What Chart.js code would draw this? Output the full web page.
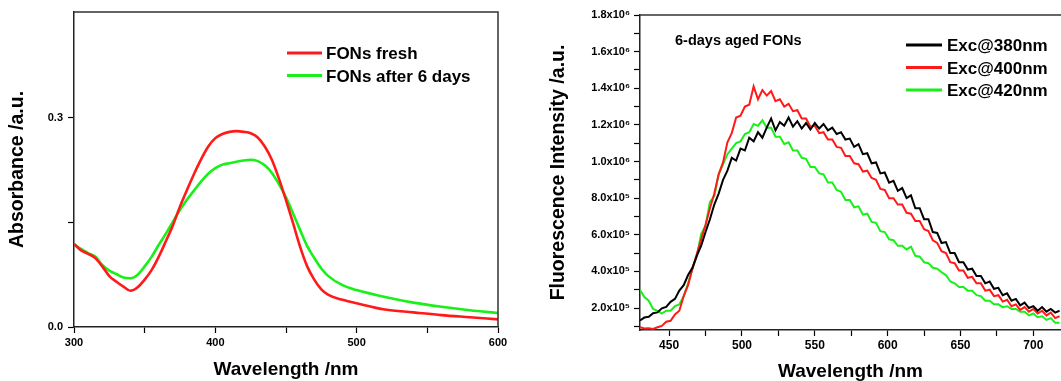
<!DOCTYPE html>
<html>
<head>
<meta charset="utf-8">
<script src="https://cdn.jsdelivr.net/npm/chart.js@4.4.1/dist/chart.umd.min.js"></script>
<style>
  html, body { margin: 0; padding: 0; background: #fff; overflow: hidden; }
  #wrap { position: relative; width: 1061px; height: 381px; }
  #abs { position: absolute; left: 0; top: 0; }
  #fl { position: absolute; left: 530px; top: 0; }
</style>
</head>
<body>
<div id="wrap">
  <canvas id="abs" width="530" height="381"></canvas>
  <canvas id="fl" width="531" height="381"></canvas>
</div>
<script>
// ---- absorbance panel (left) ----
const absWavelength = [300, 305, 310, 315, 320, 325, 330, 335, 340, 345, 350, 355, 360, 365, 370, 375, 380, 385, 390, 395,
  400, 405, 410, 415, 420, 425, 430, 435, 440, 445, 450, 455, 460, 465, 470, 475, 480, 490, 500, 520, 540, 560, 580, 600];
const absFresh = [0.119, 0.110, 0.105, 0.099, 0.087, 0.073, 0.065, 0.058, 0.052, 0.057, 0.068, 0.082, 0.101, 0.123, 0.146, 0.173, 0.197, 0.220, 0.241, 0.259,
  0.271, 0.277, 0.280, 0.281, 0.280, 0.278, 0.272, 0.259, 0.240, 0.213, 0.182, 0.149, 0.115, 0.087, 0.068, 0.054, 0.046, 0.039, 0.034, 0.025, 0.021, 0.017, 0.014, 0.011];
const absAged = [0.119, 0.112, 0.106, 0.101, 0.089, 0.081, 0.076, 0.071, 0.070, 0.075, 0.087, 0.101, 0.118, 0.134, 0.151, 0.168, 0.183, 0.196, 0.209, 0.220,
  0.228, 0.233, 0.235, 0.237, 0.239, 0.240, 0.238, 0.232, 0.221, 0.205, 0.186, 0.163, 0.139, 0.116, 0.099, 0.084, 0.073, 0.060, 0.053, 0.043, 0.035, 0.029, 0.024, 0.020];
const absLabels = ['FONs fresh', 'FONs after 6 days'];
const absXTicks = [300, 350, 400, 450, 500, 550, 600];
const absYTicks = [0, 0.15, 0.3];

// ---- fluorescence panel (right), intensity in units of 1e5 ----
const flWavelength = [430, 433, 436, 439, 442, 445, 448, 451, 454, 457, 460, 463, 466, 469, 472, 475, 478, 481, 484, 487,
  490, 493, 496, 499, 502, 505, 508, 511, 514, 517, 520, 523, 526, 529, 532, 535, 538, 541, 544, 547,
  550, 553, 556, 559, 562, 565, 568, 571, 574, 577, 580, 583, 586, 589, 592, 595, 598, 601, 604, 607,
  610, 613, 616, 619, 622, 625, 628, 631, 634, 637, 640, 643, 646, 649, 652, 655, 658, 661, 664, 667,
  670, 673, 676, 679, 682, 685, 688, 691, 694, 697, 700, 703, 706, 709, 712, 715, 718];
const exc380 = [1.32, 1.48, 1.52, 1.72, 1.76, 1.98, 2.06, 2.34, 2.5, 2.95,
  3.25, 3.8, 4.2, 4.85, 5.4, 6.15, 6.85, 7.65, 8.25, 9.0,
  9.5, 10.2, 10.05, 10.7, 10.6, 11.3, 11.1, 11.6, 11.3, 11.85,
  12.35, 11.7, 12.15, 11.95, 12.4, 11.9, 12.2, 11.8, 12.1, 11.75,
  12.1, 11.8, 12.05, 11.7, 11.85, 11.5, 11.6, 11.2, 11.25, 10.8,
  10.95, 10.4, 10.45, 9.9, 9.95, 9.35, 9.4, 8.85, 8.95, 8.4,
  8.55, 8.0, 8.15, 7.45, 7.45, 6.85, 6.85, 6.15, 6.1, 5.55,
  5.6, 5.0, 5.0, 4.5, 4.5, 4.1, 4.15, 3.75, 3.75, 3.35,
  3.45, 3.05, 3.1, 2.7, 2.8, 2.4, 2.5, 2.15, 2.3, 2.0,
  2.1, 1.85, 2.05, 1.8, 1.95, 1.75, 1.85];
const exc400 = [0.95, 0.88, 0.9, 0.86, 0.95, 1.02, 1.25, 1.3, 1.65, 1.85,
  2.65, 3.25, 4.15, 4.95, 5.75, 6.55, 7.45, 8.25, 9.3, 9.95,
  11.05, 11.55, 12.4, 12.5, 13.0, 13.1, 14.1, 13.4, 13.9, 13.6,
  13.85, 13.3, 13.4, 13.0, 13.15, 12.75, 12.8, 12.35, 12.35, 11.9,
  11.95, 11.55, 11.6, 11.2, 11.2, 10.8, 10.75, 10.3, 10.3, 9.9,
  9.85, 9.45, 9.5, 9.1, 9.0, 8.5, 8.45, 8.0, 8.0, 7.65,
  7.65, 7.2, 7.15, 6.75, 6.75, 6.3, 6.2, 5.7, 5.55, 5.1,
  5.0, 4.5, 4.45, 4.05, 4.05, 3.65, 3.7, 3.35, 3.35, 2.95,
  3.0, 2.65, 2.7, 2.35, 2.45, 2.1, 2.2, 1.9, 2.05, 1.8,
  1.95, 1.7, 1.85, 1.6, 1.75, 1.45, 1.55];
const exc420 = [3.0, 2.6, 2.4, 1.95, 1.85, 1.7, 1.85, 1.85, 2.1, 2.2,
  2.65, 3.35, 4.15, 4.85, 6.05, 6.5, 7.8, 8.1, 9.3, 9.85,
  10.4, 10.7, 11.0, 11.1, 11.5, 11.6, 12.05, 11.95, 12.25, 11.85,
  11.85, 11.35, 11.35, 10.95, 11.05, 10.6, 10.6, 10.2, 10.15, 9.7,
  9.7, 9.35, 9.3, 8.85, 8.85, 8.45, 8.35, 7.9, 7.9, 7.5,
  7.55, 7.1, 7.15, 6.7, 6.65, 6.2, 6.15, 5.75, 5.7, 5.4,
  5.4, 5.2, 5.35, 4.85, 4.8, 4.5, 4.45, 4.2, 4.15, 3.95,
  3.8, 3.45, 3.35, 3.15, 3.15, 2.95, 2.95, 2.7, 2.65, 2.4,
  2.4, 2.2, 2.2, 2.05, 2.1, 1.95, 1.95, 1.8, 1.8, 1.6,
  1.7, 1.5, 1.55, 1.35, 1.45, 1.2, 1.2];
const flLabels = ['Exc@380nm', 'Exc@400nm', 'Exc@420nm'];
const flNote = '6-days aged FONs';
const flXTicks = [450, 475, 500, 525, 550, 575, 600, 625, 650, 675, 700];
const flYTicks = [1, 2, 3, 4, 5, 6, 7, 8, 9, 10, 11, 12, 13, 14, 15, 16, 17, 18];

const FONT = '"Liberation Sans", Arial, sans-serif';
Chart.defaults.font.family = FONT;
Chart.defaults.font.weight = 'bold';
Chart.defaults.color = '#000';

function pts(xs, ys) {
  return xs.map((x, i) => ({ x: x, y: ys[i] }));
}

// box lines on top / right of the plot area
const frame = {
  id: 'frame',
  afterDraw(chart, args, opts) {
    const { ctx, chartArea: a } = chart;
    ctx.save();
    ctx.strokeStyle = '#333';
    ctx.lineWidth = 1.5;
    ctx.beginPath();
    ctx.moveTo(a.left, a.top);
    ctx.lineTo(a.right, a.top);
    if (opts.right) ctx.lineTo(a.right, a.bottom);
    ctx.stroke();
    ctx.restore();
  }
};

// legend drawn inside the plot, like the original figure
const boxLegend = {
  id: 'boxLegend',
  afterDraw(chart, args, opts) {
    const ctx = chart.ctx;
    ctx.save();
    ctx.font = 'bold ' + opts.size + 'px ' + FONT;
    ctx.textBaseline = 'alphabetic';
    chart.data.datasets.forEach((ds, i) => {
      const y = opts.y + i * opts.dy;
      ctx.strokeStyle = ds.borderColor;
      ctx.lineWidth = opts.lw;
      ctx.beginPath();
      ctx.moveTo(opts.x, y);
      ctx.lineTo(opts.x + opts.len, y);
      ctx.stroke();
      ctx.fillStyle = '#000';
      ctx.fillText(ds.label, opts.x + opts.len + opts.gap, y + opts.size * 0.36);
    });
    if (opts.note) {
      ctx.font = 'bold ' + opts.note.size + 'px ' + FONT;
      ctx.fillText(opts.note.text, opts.note.x, opts.note.y);
    }
    ctx.restore();
  }
};

function axis(extra) {
  return Object.assign({
    type: 'linear',
    grid: { drawOnChartArea: false, drawTicks: true, tickLength: 6, tickColor: '#000', tickWidth: 1.2 },
    border: { display: true, color: '#222', width: 1.5 }
  }, extra);
}

new Chart(document.getElementById('abs'), {
  type: 'line',
  data: {
    datasets: [
      { label: absLabels[0], data: pts(absWavelength, absFresh), borderColor: '#ff1a1a', borderWidth: 2.6, pointRadius: 0, tension: 0.4, cubicInterpolationMode: 'monotone' },
      { label: absLabels[1], data: pts(absWavelength, absAged), borderColor: '#19f019', borderWidth: 2.6, pointRadius: 0, tension: 0.4, cubicInterpolationMode: 'monotone' }
    ]
  },
  options: {
    responsive: false,
    animation: false,
    devicePixelRatio: 1,
    layout: { padding: { left: 0, top: 12, right: 32, bottom: 0 } },
    plugins: {
      legend: { display: false },
      tooltip: { enabled: false },
      frame: { right: true },
      boxLegend: { x: 287, y: 53, dy: 22.5, len: 35, gap: 4, lw: 3, size: 17 }
    },
    scales: {
      x: axis({
        min: 300, max: 600,
        afterBuildTicks: s => { s.ticks = absXTicks.map(v => ({ value: v })); },
        afterFit: s => { s.height = 54; },
        ticks: { autoSkip: false, maxRotation: 0, padding: 3, font: { size: 11, weight: 'bold' },
          callback: v => (v % 100 === 0 ? String(v) : '') },
        title: { display: true, text: 'Wavelength /nm', font: { size: 19, weight: 'bold' }, padding: { top: 0, bottom: 0 } }
      }),
      y: axis({
        min: 0, max: 0.452,
        afterBuildTicks: s => { s.ticks = absYTicks.map(v => ({ value: v })); },
        afterFit: s => { s.width = 74; },
        ticks: { autoSkip: false, padding: 5, font: { size: 11, weight: 'bold' },
          callback: v => (Math.abs(v / 0.3 - Math.round(v / 0.3)) < 1e-6 ? v.toFixed(1) : '') },
        title: { display: true, text: 'Absorbance /a.u.', font: { size: 19.5, weight: 'bold' }, padding: { top: 6, bottom: 0 } }
      })
    }
  },
  plugins: [frame, boxLegend]
});

new Chart(document.getElementById('fl'), {
  type: 'line',
  data: {
    datasets: [
      { label: flLabels[0], data: pts(flWavelength, exc380), borderColor: '#000000', borderWidth: 2, pointRadius: 0, tension: 0 },
      { label: flLabels[1], data: pts(flWavelength, exc400), borderColor: '#ff1a1a', borderWidth: 2, pointRadius: 0, tension: 0 },
      { label: flLabels[2], data: pts(flWavelength, exc420), borderColor: '#19f019', borderWidth: 2, pointRadius: 0, tension: 0 }
    ]
  },
  options: {
    responsive: false,
    animation: false,
    devicePixelRatio: 1,
    layout: { padding: { left: 0, top: 15, right: 0, bottom: 0 } },
    plugins: {
      legend: { display: false },
      tooltip: { enabled: false },
      frame: { right: false },
      boxLegend: { x: 376, y: 45, dy: 22.5, len: 36, gap: 5, lw: 3, size: 17,
        note: { text: flNote, x: 145, y: 45, size: 14.5 } }
    },
    scales: {
      x: axis({
        min: 430, max: 719,
        afterBuildTicks: s => { s.ticks = flXTicks.map(v => ({ value: v })); },
        afterFit: s => { s.height = 51; },
        ticks: { autoSkip: false, maxRotation: 0, padding: 2, font: { size: 12, weight: 'bold' },
          callback: v => (v % 50 === 0 ? String(v) : '') },
        title: { display: true, text: 'Wavelength /nm', font: { size: 19, weight: 'bold' }, padding: { top: 0, bottom: -2 } }
      }),
      y: axis({
        min: 0.8, max: 18,
        afterBuildTicks: s => { s.ticks = flYTicks.map(v => ({ value: v })); },
        afterFit: s => { s.width = 110; },
        ticks: { autoSkip: false, padding: 4, font: { size: 11, weight: 'bold' },
          callback: v => {
            if (v % 2 !== 0) return '';
            return v >= 10 ? (v / 10).toFixed(1) + 'x10\u2076' : v.toFixed(1) + 'x10\u2075';
          } },
        title: { display: true, text: 'Fluorescence Intensity /a.u.', font: { size: 19.5, weight: 'bold' }, padding: { top: 17, bottom: 0 } }
      })
    }
  },
  plugins: [frame, boxLegend]
});
</script>
</body>
</html>
